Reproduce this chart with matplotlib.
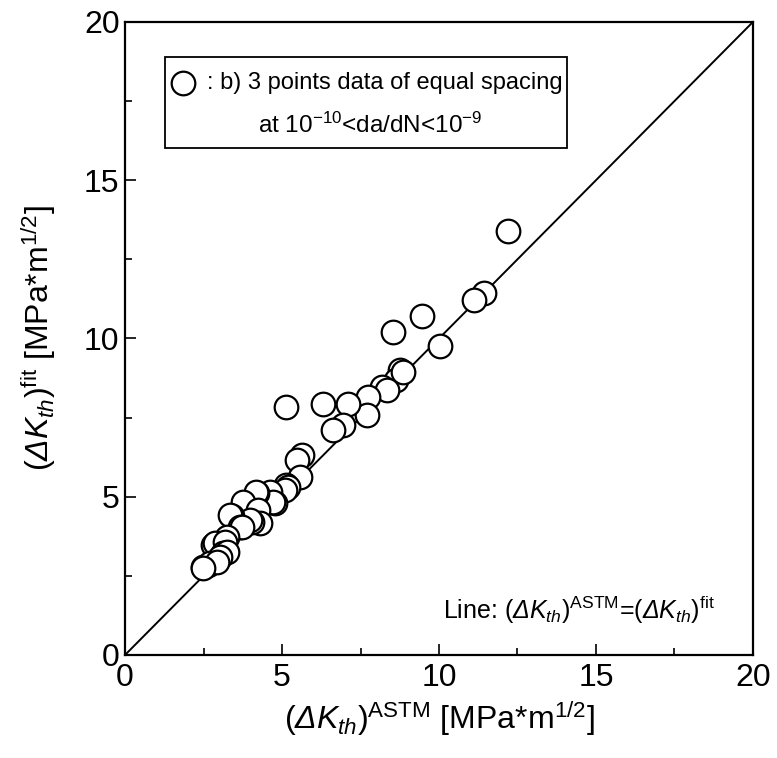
import numpy as np
import matplotlib
matplotlib.use("Agg")
import matplotlib.pyplot as plt
from matplotlib.patches import Rectangle
from matplotlib.ticker import MultipleLocator

plt.rcParams['font.family'] = ['Liberation Sans', 'DejaVu Sans']
plt.rcParams['mathtext.fontset'] = 'custom'
plt.rcParams['mathtext.rm'] = 'Liberation Sans'
plt.rcParams['mathtext.it'] = 'Liberation Sans:italic'
plt.rcParams['mathtext.bf'] = 'Liberation Sans:bold'
# \mathsf used only to get an italic capital Delta (mathit forces Greek caps upright)
plt.rcParams['mathtext.sf'] = 'Liberation Sans:italic'

# --------------------------------------------
# DATA
# --------------------------------------------
dk_astm = [12.2, 11.43, 11.1, 10.03, 9.46, 8.55, 8.76, 8.63, 8.85, 8.18,
           8.34, 7.74, 7.71, 7.1, 6.31, 5.13, 6.94, 6.62,
           5.64, 5.48, 5.57, 5.13, 5.19, 5.1, 4.62, 4.78, 4.71,
           4.2, 4.17, 3.76, 4.24, 4.3, 4.04, 3.98, 3.41, 3.34, 3.66, 3.73,
           3.25, 3.12, 2.8, 2.87, 3.18, 3.12, 3.25, 3.03,
           2.48, 2.64, 2.7, 2.93, 2.48]
dk_fit = [13.4, 11.44, 11.2, 9.76, 10.71, 10.2, 9.0, 8.69, 8.94, 8.47,
          8.37, 8.15, 7.58, 7.93, 7.93, 7.84, 7.27, 7.11,
          6.32, 6.16, 5.62, 5.37, 5.31, 5.21, 5.15, 4.8, 4.83,
          5.12, 5.15, 4.83, 4.58, 4.17, 4.2, 4.27, 4.39, 4.42, 4.04, 4.04,
          3.73, 3.41, 3.48, 3.54, 3.57, 3.22, 3.25, 3.1,
          2.78, 2.84, 2.9, 2.94, 2.75]

ticks = [0, 5, 10, 15, 20]

fig = plt.figure(figsize=(7.77, 7.58), dpi=100)
ax = fig.add_axes([0.161, 0.136, 0.808, 0.835])

ax.plot([0, 20], [0, 20], color="black", lw=1.4, zorder=1)
ax.plot(dk_astm, dk_fit, linestyle="none", marker="o", ms=17,
        mfc="white", mec="black", mew=1.6, zorder=2)

ax.set_xlim(0, 20)
ax.set_ylim(0, 20)
ax.set_xticks(ticks)
ax.set_yticks(ticks)
ax.xaxis.set_minor_locator(MultipleLocator(2.5))
ax.yaxis.set_minor_locator(MultipleLocator(2.5))
ax.tick_params(which="both", direction="in", top=False, right=False, width=1.2)
ax.tick_params(which="major", length=8, labelsize=23, pad=4)
ax.tick_params(axis="x", which="major", pad=6)
ax.tick_params(which="minor", length=5)
for s in ax.spines.values():
    s.set_linewidth(1.6)

dk = r"$(\mathsf{\Delta}\mathit{K_{th}})^{\mathrm{%s}}$"
lab = dk + r" [MPa*m$^{1/2}$]"
ax.set_xlabel(lab % "ASTM", fontsize=23, labelpad=4)
ax.set_ylabel(lab % "fit", fontsize=23, labelpad=19)

# ---- legend box ----
ax.add_patch(Rectangle((0.064, 0.801), 0.640, 0.144, transform=ax.transAxes,
                       fill=False, ec="black", lw=1.3, zorder=3))
ax.plot([0.092], [0.904], transform=ax.transAxes, marker="o", ms=17,
        mfc="white", mec="black", mew=1.6, clip_on=False, zorder=4)
ax.text(0.13, 0.904, ": b) 3 points data of equal spacing", transform=ax.transAxes,
        fontsize=17, va="center", ha="left")
ax.text(0.39, 0.837, r"at 10$^{-10}$<da/dN<10$^{-9}$", transform=ax.transAxes,
        fontsize=17.5, va="center", ha="center")

ax.text(0.939, 0.071,
        "Line: " + (dk % "ASTM") + "=" + (dk % "fit"),
        transform=ax.transAxes, fontsize=18, va="center", ha="right")

fig.savefig("out.png", dpi=100)
